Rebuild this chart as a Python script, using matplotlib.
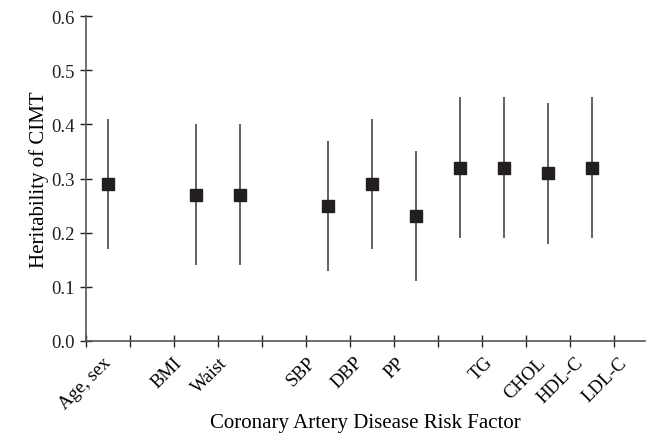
import matplotlib
matplotlib.use("Agg")
import matplotlib.pyplot as plt

plt.rcParams['font.family'] = ['Liberation Serif', 'DejaVu Serif']

# data
factors = ["Age, sex", "BMI", "Waist", "SBP", "DBP", "PP", "TG", "CHOL", "HDL-C", "LDL-C"]
xpos = [0.5, 2.5, 3.5, 5.5, 6.5, 7.5, 8.5, 9.5, 10.5, 11.5]
label_pos = [0.37, 1.97, 3.02, 5.03, 6.1, 7.05, 9.05, 10.25, 11.1, 12.1]
herit = [0.29, 0.27, 0.27, 0.25, 0.29, 0.23, 0.32, 0.32, 0.31, 0.32]
lower = [0.17, 0.14, 0.14, 0.13, 0.17, 0.11, 0.19, 0.19, 0.18, 0.19]
upper = [0.41, 0.40, 0.40, 0.37, 0.41, 0.35, 0.45, 0.45, 0.44, 0.45]

fig = plt.figure(figsize=(6.48, 4.39), dpi=100)
ax = fig.add_axes([0.133, 0.221, 0.862, 0.740])

ax.vlines(xpos, lower, upper, color="#555555", lw=1.3, zorder=1)
ax.plot(xpos, herit, ls="none", marker="s", ms=8.5, color="#231f20", zorder=2)

ax.set_xlim(0, 12.7)
ax.set_ylim(0, 0.6)
ax.set_yticks([0.0, 0.1, 0.2, 0.3, 0.4, 0.5, 0.6])
ax.set_yticklabels(["0.0", "0.1", "0.2", "0.3", "0.4", "0.5", "0.6"])
ax.set_xticks(range(13))
ax.set_xticklabels([])
ax.set_xticks(label_pos, minor=True)
ax.set_xticklabels(factors, minor=True, rotation=45, ha="right", rotation_mode="anchor")
ax.tick_params(axis="x", which="minor", length=0, pad=9, labelsize=13.5)
ax.tick_params(axis="both", which="major", direction="inout", length=8, width=1, colors="#231f20", labelsize=13.5)
ax.tick_params(axis="y", pad=4)

for s in ["top", "right"]:
    ax.spines[s].set_visible(False)
for s in ["left", "bottom"]:
    ax.spines[s].set_color("#555555")
    ax.spines[s].set_linewidth(1.2)

ax.set_ylabel("Heritability of CIMT", fontsize=15)
ax.yaxis.set_label_coords(-0.067, 0.5)
ax.set_xlabel("Coronary Artery Disease Risk Factor", fontsize=15)
ax.xaxis.set_label_coords(0.50, -0.222)

fig.savefig("out.png", dpi=100)
